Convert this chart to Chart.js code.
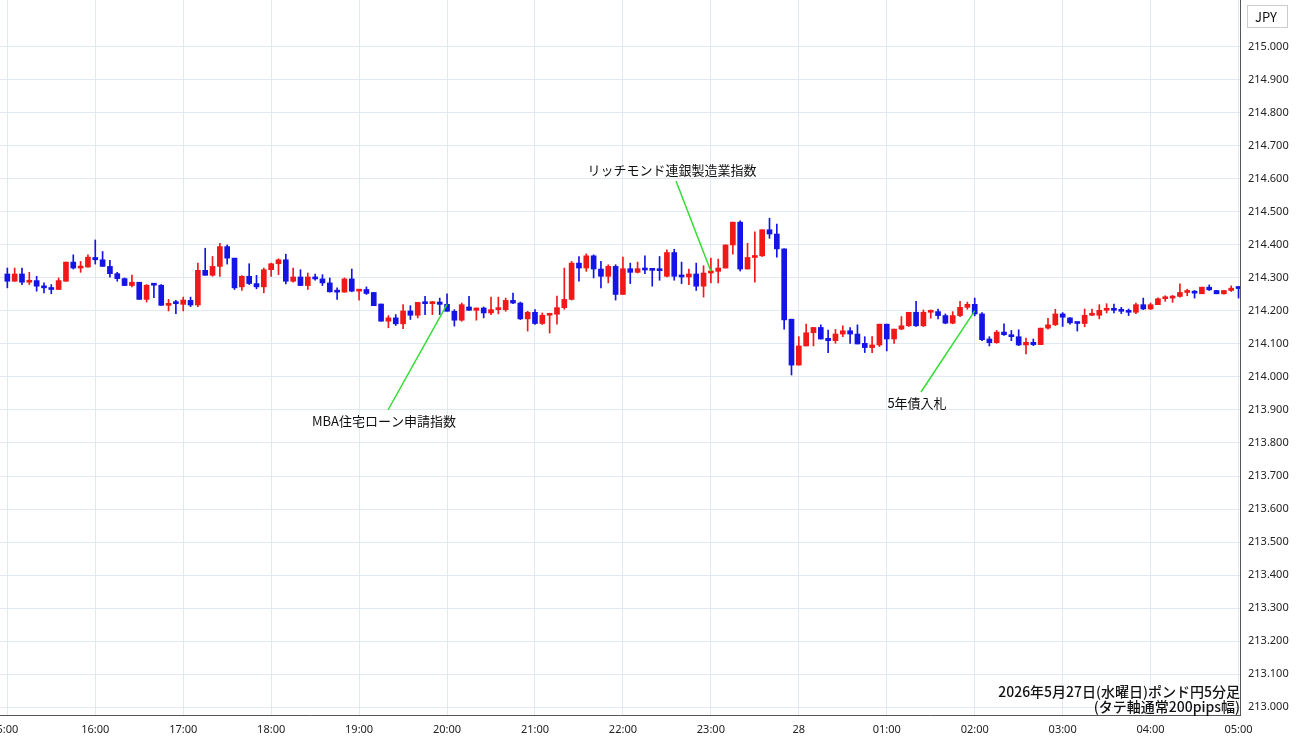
<!DOCTYPE html>
<html>
<head>
<meta charset="utf-8">
<script src="https://cdn.jsdelivr.net/npm/chart.js@4.4.1/dist/chart.umd.min.js"></script>
<style>
  html, body { margin: 0; padding: 0; background: #fff; }
  #wrap { width: 1300px; height: 745px; }
</style>
</head>
<body>
<div id="wrap"><canvas id="chart" width="1300" height="745"></canvas></div>
<script>
// ポンド円 5分足 (15:00〜05:00)
const opens = [214.312,214.290,214.312,214.287,214.292,214.273,214.270,214.265,214.290,214.348,214.330,214.333,214.362,214.355,214.335,214.313,214.298,214.277,214.287,214.235,214.279,214.278,214.217,214.225,214.220,
  214.232,214.218,214.323,214.308,214.335,214.395,214.360,214.273,214.305,214.283,214.273,214.325,214.343,214.355,214.290,214.303,214.277,214.303,214.297,214.285,214.259,214.257,214.297,214.260,214.265,
  214.256,214.221,214.169,214.179,214.161,214.200,214.187,214.224,214.222,214.227,214.220,214.199,214.172,214.212,214.202,214.209,214.194,214.204,214.204,214.232,214.224,214.176,214.196,214.162,
  214.187,214.190,214.210,214.235,214.345,214.330,214.367,214.327,214.305,214.335,214.250,214.328,214.317,214.326,214.324,214.324,214.305,214.377,214.305,214.303,214.312,214.275,214.315,214.320,214.330,
  214.400,214.469,214.327,214.362,214.367,214.446,214.433,214.388,214.175,214.036,214.094,214.134,214.150,214.117,214.110,214.130,214.140,214.130,214.102,214.089,214.097,214.160,
  214.115,214.145,214.155,214.196,214.155,214.196,214.198,214.186,214.163,214.186,214.211,214.220,214.191,214.115,214.104,214.136,214.128,214.122,214.097,214.105,214.098,214.148,214.158,214.191,
  214.179,214.166,214.162,214.187,214.187,214.202,214.204,214.202,214.199,214.196,214.219,214.206,214.219,214.237,214.239,214.244,214.256,214.257,214.252,214.272,214.262,214.252,214.262,214.270];
const highs = [214.330,214.330,214.330,214.317,214.305,214.285,214.280,214.300,214.348,214.370,214.350,214.370,214.415,214.380,214.353,214.317,214.300,214.309,214.287,214.280,214.280,214.280,214.235,214.232,214.242,
  214.242,214.345,214.390,214.365,214.405,214.400,214.360,214.307,214.343,214.308,214.330,214.345,214.358,214.372,214.330,214.325,214.315,214.312,214.310,214.300,214.270,214.300,214.327,214.265,214.273,
  214.256,214.221,214.186,214.189,214.219,214.216,214.226,214.244,214.229,214.239,214.252,214.204,214.224,214.244,214.209,214.212,214.242,214.242,214.239,214.254,214.227,214.199,214.204,214.194,
  214.190,214.245,214.330,214.350,214.365,214.373,214.370,214.350,214.340,214.340,214.363,214.345,214.348,214.367,214.327,214.365,214.385,214.387,214.348,214.327,214.345,214.337,214.360,214.357,214.400,
  214.469,214.473,214.405,214.440,214.446,214.481,214.463,214.388,214.175,214.122,214.160,214.150,214.158,214.142,214.144,214.155,214.150,214.158,214.122,214.122,214.160,214.160,
  214.145,214.183,214.196,214.229,214.203,214.203,214.206,214.191,214.198,214.229,214.227,214.239,214.195,214.122,214.141,214.161,214.141,214.143,214.118,214.115,214.148,214.178,214.205,214.195,
  214.180,214.166,214.206,214.206,214.219,214.222,214.221,214.211,214.206,214.224,214.239,214.224,214.240,214.246,214.247,214.282,214.266,214.262,214.272,214.279,214.262,214.262,214.276,214.274];
const lows = [214.270,214.290,214.280,214.280,214.260,214.255,214.252,214.265,214.290,214.327,214.317,214.333,214.342,214.335,214.302,214.290,214.277,214.273,214.235,214.227,214.240,214.217,214.200,214.192,214.200,
  214.213,214.213,214.308,214.305,214.305,214.342,214.265,214.262,214.280,214.267,214.255,214.305,214.310,214.282,214.287,214.277,214.265,214.293,214.277,214.257,214.235,214.257,214.258,214.233,214.250,
  214.216,214.169,214.149,214.156,214.146,214.174,214.179,214.189,214.189,214.189,214.199,214.154,214.169,214.202,214.172,214.179,214.189,214.191,214.199,214.222,214.174,214.139,214.159,214.159,
  214.133,214.160,214.205,214.233,214.290,214.320,214.300,214.270,214.285,214.233,214.250,214.283,214.315,214.313,214.275,214.293,214.303,214.293,214.283,214.280,214.262,214.242,214.285,214.285,214.330,
  214.372,214.321,214.327,214.287,214.365,214.420,214.363,214.145,214.006,214.036,214.094,214.094,214.115,214.074,214.102,214.122,214.102,214.100,214.074,214.074,214.092,214.079,
  214.102,214.143,214.153,214.153,214.153,214.178,214.176,214.161,214.161,214.183,214.205,214.185,214.110,214.094,214.102,214.126,214.110,214.095,214.070,214.095,214.098,214.145,214.156,214.153,
  214.160,214.139,214.152,214.186,214.176,214.194,214.194,214.192,214.186,214.192,214.204,214.204,214.219,214.229,214.226,214.242,214.246,214.239,214.252,214.262,214.252,214.251,214.259,214.239];
const closes = [214.290,214.312,214.287,214.292,214.275,214.270,214.265,214.292,214.348,214.330,214.333,214.363,214.355,214.335,214.313,214.298,214.277,214.287,214.235,214.278,214.278,214.217,214.222,214.222,214.233,
  214.218,214.323,214.308,214.335,214.395,214.360,214.270,214.305,214.283,214.273,214.325,214.343,214.355,214.290,214.303,214.277,214.303,214.297,214.285,214.258,214.257,214.297,214.260,214.265,214.253,
  214.216,214.169,214.179,214.161,214.200,214.187,214.226,214.222,214.226,214.220,214.199,214.172,214.219,214.202,214.209,214.194,214.204,214.205,214.232,214.224,214.176,214.196,214.162,214.187,
  214.190,214.210,214.235,214.345,214.330,214.367,214.327,214.305,214.335,214.250,214.328,214.317,214.328,214.324,214.323,214.322,214.377,214.305,214.303,214.312,214.275,214.315,214.320,214.330,214.400,
  214.469,214.327,214.362,214.367,214.446,214.433,214.388,214.173,214.036,214.094,214.134,214.150,214.115,214.110,214.130,214.140,214.130,214.100,214.089,214.097,214.160,214.115,
  214.145,214.155,214.196,214.155,214.196,214.198,214.186,214.163,214.186,214.211,214.220,214.191,214.113,214.104,214.136,214.128,214.122,214.097,214.105,214.098,214.148,214.158,214.191,214.181,
  214.164,214.162,214.187,214.188,214.202,214.204,214.202,214.199,214.196,214.219,214.206,214.219,214.237,214.239,214.244,214.256,214.257,214.254,214.272,214.264,214.252,214.262,214.269,214.268];

const hourLabels = ['5:00','16:00','17:00','18:00','19:00','20:00','21:00','22:00','23:00','28','01:00','02:00','03:00','04:00','05:00'];
const yTicks = [213.0,213.1,213.2,213.3,213.4,213.5,213.6,213.7,213.8,213.9,214.0,214.1,214.2,214.3,214.4,214.5,214.6,214.7,214.8,214.9,215.0];

// 指標アノテーション: [テキスト, 足番号, 価格, テキストx, テキストy]
const events = [
  ['リッチモンド連銀製造業指数', 97, 214.32, 672, 170],
  ['MBA住宅ローン申請指数', 61, 214.22, 384, 421],
  ['5年債入札', 133, 214.20, 917, 403]
];

const UP = '#f01818', DOWN = '#1414e6';
const colors = closes.map((c, i) => c >= opens[i] ? UP : DOWN);
const bodies = closes.map((c, i) => ({ x: i + 1, y: [opens[i], c] }));
const wicks = closes.map((c, i) => ({ x: i + 1, y: [lows[i], highs[i]] }));

const overlay = {
  id: 'overlay',
  afterDraw(chart) {
    const { ctx, scales: { x, y } } = chart;
    ctx.save();
    ctx.font = '13px "Noto Sans CJK JP", sans-serif';
    ctx.fillStyle = '#111';
    ctx.textAlign = 'center';
    ctx.textBaseline = 'middle';
    events.forEach(([txt, idx, price, tx, ty]) => {
      ctx.fillText(txt, tx, ty);
      ctx.strokeStyle = '#33dd33';
      ctx.lineWidth = 1.5;
      ctx.beginPath();
      ctx.moveTo(tx + 4, ty < y.getPixelForValue(price) ? ty + 11 : ty - 11);
      ctx.lineTo(x.getPixelForValue(idx), y.getPixelForValue(price));
      ctx.stroke();
    });
    // JPY ラベル
    ctx.strokeStyle = '#ccc';
    ctx.lineWidth = 1;
    ctx.strokeRect(1247.5, 5.5, 40, 22);
    ctx.fillText('JPY', 1266, 17);
    // 右下の注記
    ctx.textAlign = 'right';
    ctx.font = '500 14px "Noto Sans CJK JP", sans-serif';
    ctx.fillText('2026年5月27日(水曜日)ポンド円5分足', 1240, 692);
    ctx.fillText('(タテ軸通常200pips幅)', 1240, 707);
    ctx.restore();
  }
};

new Chart(document.getElementById('chart'), {
  type: 'bar',
  data: {
    datasets: [
      { data: wicks, backgroundColor: colors, barThickness: 1, minBarLength: 1, grouped: false, order: 2 },
      { data: bodies, backgroundColor: colors, barThickness: 5, minBarLength: 2, grouped: false, order: 1 }
    ]
  },
  options: {
    responsive: false,
    animation: false,
    layout: { padding: 0 },
    plugins: { legend: { display: false }, tooltip: { enabled: false } },
    scales: {
      x: {
        type: 'linear',
        offset: false,
        min: 0,
        max: 169.2,
        grid: { color: '#e3e9f2', drawTicks: false, offset: false },
        border: { color: '#555' },
        afterBuildTicks(s) { s.ticks = hourLabels.map((_, k) => ({ value: 1 + 12 * k })); },
        afterFit(s) { s.height = 30; s.paddingLeft = 0; s.paddingRight = 0; },
        ticks: {
          autoSkip: false, maxRotation: 0, padding: 8,
          color: '#222', font: { size: 11, family: 'Noto Sans' },
          callback(v) { return hourLabels[(v - 1) / 12]; }
        }
      },
      y: {
        position: 'right',
        min: 212.976,
        max: 215.142,
        grid: { color: '#e3e9f2', drawTicks: false },
        border: { color: '#555' },
        afterBuildTicks(s) { s.ticks = yTicks.map(v => ({ value: v })); },
        afterFit(s) { s.width = 60; s.paddingTop = 0; s.paddingBottom = 0; },
        ticks: {
          padding: 8, color: '#222', font: { size: 11, family: 'Noto Sans' },
          callback(v) { return v.toFixed(3); }
        }
      }
    }
  },
  plugins: [overlay]
});
</script>
</body>
</html>
